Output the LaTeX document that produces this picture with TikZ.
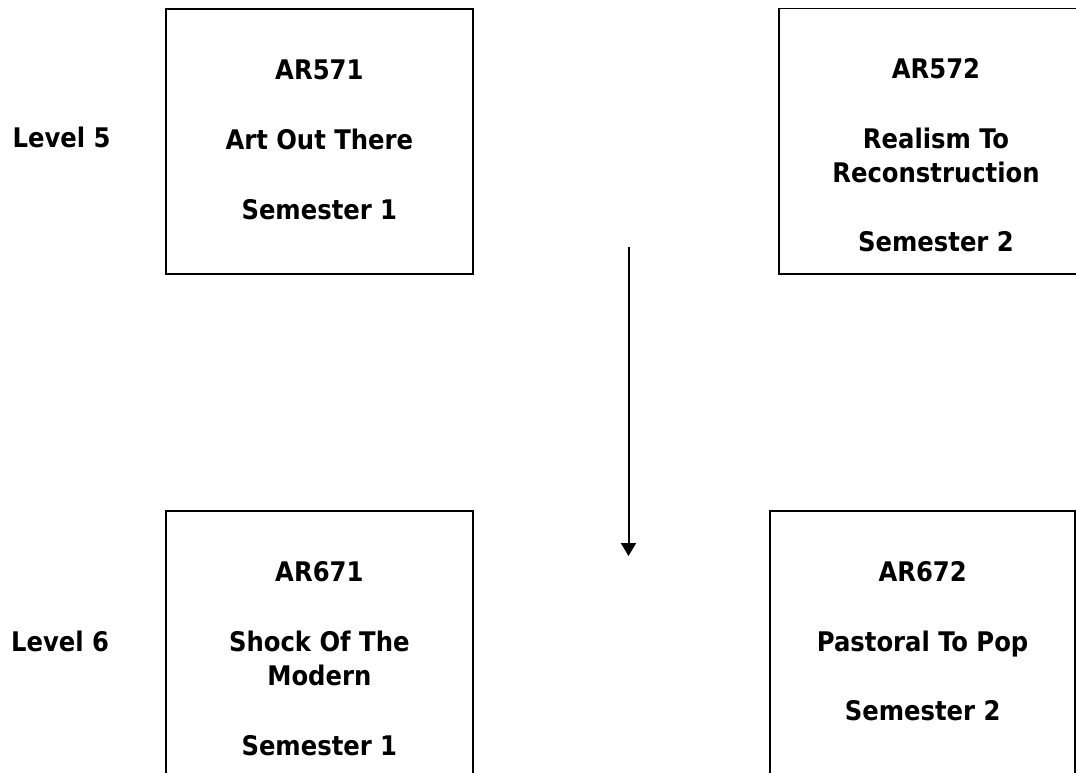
\documentclass[tikz,border=0pt]{standalone}
\usepackage{fontspec}
\newfontfamily\diafont{DejaVu Sans Condensed}
\usetikzlibrary{arrows.meta}
\tikzset{
  coursebox/.style={draw=black, line width=1.8pt, rectangle, inner sep=0pt, outer sep=0pt, fill=none},
  coursetext/.style={align=center, inner sep=0pt, anchor=base, font=\diafont\bfseries\fontsize{27pt}{34pt}\selectfont},
  leveltext/.style={inner sep=0pt, anchor=base west, font=\diafont\bfseries\fontsize{27pt}{34pt}\selectfont},
  flow/.style={line width=2pt, -{Triangle[length=13pt, width=15pt]}}
}
\begin{document}
\begin{tikzpicture}[x=1pt, y=-1pt]
\useasboundingbox (0,0) rectangle (1076,772);
\clip (0,0) rectangle (1076,772);
% boxes
\node[coursebox, minimum width=307.3pt, minimum height=265pt] (b571) at (319.35,141.5) {};
\node[coursebox, minimum width=314pt, minimum height=265.5pt] (b572) at (936,141.25) {};
\node[coursebox, minimum width=307.3pt, minimum height=300pt] (b671) at (319.35,661) {};
\node[coursebox, minimum width=304.7pt, minimum height=300pt] (b672) at (922.65,661) {};
% texts (anchored at the baseline of the last line)
\node[coursetext] (t571) at (319.35,219) {AR571\\[35.6pt]Art Out There\\[35.6pt]Semester 1};
\node[coursetext] (t572) at (936,251.7) {AR572\\[35.6pt]Realism To\\Reconstruction\\[35.6pt]Semester 2};
\node[coursetext] (t671) at (319.35,755) {AR671\\[35.6pt]Shock Of The\\Modern\\[35.6pt]Semester 1};
\node[coursetext] (t672) at (922.65,720.7) {AR672\\[35.6pt]Pastoral To Pop\\[35.6pt]Semester 2};
\node[leveltext] (l5) at (12.5,147) {Level 5};
\node[leveltext] (l6) at (11,651.7) {Level 6};
% arrow
\coordinate (astart) at (628.5,247);
\coordinate (aend) at (628.5,556);
\draw[flow] (astart) -- (aend);
\end{tikzpicture}
\end{document}
